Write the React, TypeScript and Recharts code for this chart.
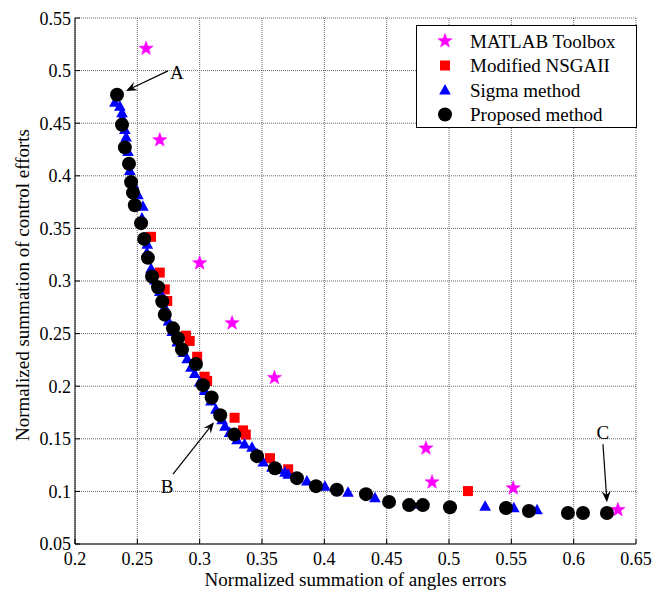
import {
  CartesianGrid,
  Legend,
  ReferenceDot,
  ReferenceLine,
  Scatter,
  ScatterChart,
  XAxis,
  YAxis,
} from 'recharts';

type Point = { x: number; y: number };

const FONT = '"Liberation Serif", "Times New Roman", serif';

const xTicks = [0.2, 0.25, 0.3, 0.35, 0.4, 0.45, 0.5, 0.55, 0.6, 0.65];
const yTicks = [0.05, 0.1, 0.15, 0.2, 0.25, 0.3, 0.35, 0.4, 0.45, 0.5, 0.55];

const matlabToolbox: Point[] = [
  { x: 0.257, y: 0.521 },
  { x: 0.268, y: 0.434 },
  { x: 0.3, y: 0.317 },
  { x: 0.326, y: 0.26 },
  { x: 0.36, y: 0.208 },
  { x: 0.4815, y: 0.141 },
  { x: 0.4864, y: 0.1088 },
  { x: 0.5515, y: 0.1031 },
  { x: 0.6355, y: 0.0825 },
];

const modifiedNsga: Point[] = [
  { x: 0.261, y: 0.342 },
  { x: 0.268, y: 0.308 },
  { x: 0.272, y: 0.292 },
  { x: 0.274, y: 0.281 },
  { x: 0.289, y: 0.248 },
  { x: 0.292, y: 0.243 },
  { x: 0.298, y: 0.228 },
  { x: 0.304, y: 0.209 },
  { x: 0.306, y: 0.205 },
  { x: 0.328, y: 0.17 },
  { x: 0.3348, y: 0.158 },
  { x: 0.337, y: 0.154 },
  { x: 0.3564, y: 0.1316 },
  { x: 0.371, y: 0.121 },
  { x: 0.5152, y: 0.1003 },
];

const sigmaMethod: Point[] = [
  { x: 0.232, y: 0.47 },
  { x: 0.236, y: 0.466 },
  { x: 0.2377, y: 0.46 },
  { x: 0.238, y: 0.455 },
  { x: 0.24, y: 0.444 },
  { x: 0.241, y: 0.437 },
  { x: 0.2425, y: 0.423 },
  { x: 0.244, y: 0.405 },
  { x: 0.247, y: 0.392 },
  { x: 0.2505, y: 0.382 },
  { x: 0.2545, y: 0.371 },
  { x: 0.2537, y: 0.36 },
  { x: 0.258, y: 0.335 },
  { x: 0.2577, y: 0.327 },
  { x: 0.261, y: 0.312 },
  { x: 0.264, y: 0.301 },
  { x: 0.268, y: 0.29 },
  { x: 0.272, y: 0.275 },
  { x: 0.275, y: 0.262 },
  { x: 0.278, y: 0.252 },
  { x: 0.282, y: 0.242 },
  { x: 0.287, y: 0.232 },
  { x: 0.29, y: 0.226 },
  { x: 0.293, y: 0.218 },
  { x: 0.296, y: 0.212 },
  { x: 0.3, y: 0.204 },
  { x: 0.304, y: 0.196 },
  { x: 0.309, y: 0.186 },
  { x: 0.313, y: 0.178 },
  { x: 0.318, y: 0.168 },
  { x: 0.3203, y: 0.162 },
  { x: 0.324, y: 0.156 },
  { x: 0.33, y: 0.149 },
  { x: 0.336, y: 0.145 },
  { x: 0.342, y: 0.142 },
  { x: 0.346, y: 0.136 },
  { x: 0.351, y: 0.128 },
  { x: 0.358, y: 0.123 },
  { x: 0.364, y: 0.121 },
  { x: 0.3684, y: 0.1183 },
  { x: 0.371, y: 0.1164 },
  { x: 0.378, y: 0.113 },
  { x: 0.386, y: 0.11 },
  { x: 0.4005, y: 0.105 },
  { x: 0.419, y: 0.0993 },
  { x: 0.4406, y: 0.094 },
  { x: 0.47, y: 0.088 },
  { x: 0.529, y: 0.086 },
  { x: 0.552, y: 0.0845 },
  { x: 0.5706, y: 0.0825 },
];

const proposedMethod: Point[] = [
  { x: 0.2337, y: 0.477 },
  { x: 0.2377, y: 0.4485 },
  { x: 0.24, y: 0.427 },
  { x: 0.2433, y: 0.4115 },
  { x: 0.245, y: 0.394 },
  { x: 0.2465, y: 0.384 },
  { x: 0.248, y: 0.372 },
  { x: 0.253, y: 0.355 },
  { x: 0.2555, y: 0.34 },
  { x: 0.2585, y: 0.322 },
  { x: 0.2618, y: 0.3043 },
  { x: 0.2666, y: 0.294 },
  { x: 0.27, y: 0.2805 },
  { x: 0.272, y: 0.268 },
  { x: 0.2786, y: 0.255 },
  { x: 0.2826, y: 0.2455 },
  { x: 0.2858, y: 0.235 },
  { x: 0.297, y: 0.221 },
  { x: 0.3027, y: 0.201 },
  { x: 0.3096, y: 0.1892 },
  { x: 0.3165, y: 0.1725 },
  { x: 0.3278, y: 0.154 },
  { x: 0.346, y: 0.1335 },
  { x: 0.3604, y: 0.122 },
  { x: 0.378, y: 0.1126 },
  { x: 0.3933, y: 0.105 },
  { x: 0.41, y: 0.1015 },
  { x: 0.4334, y: 0.0974 },
  { x: 0.4519, y: 0.09 },
  { x: 0.468, y: 0.087 },
  { x: 0.479, y: 0.087 },
  { x: 0.5008, y: 0.085 },
  { x: 0.5457, y: 0.0842 },
  { x: 0.5641, y: 0.0813 },
  { x: 0.5954, y: 0.0794 },
  { x: 0.6075, y: 0.0794 },
  { x: 0.6267, y: 0.0794 },
];

const annotations = [
  { label: 'A', text: { x: 0.2818, y: 0.4978 }, from: { x: 0.2746, y: 0.4997 }, to: { x: 0.2409, y: 0.4807 } },
  { label: 'B', text: { x: 0.2738, y: 0.105 }, from: { x: 0.2786, y: 0.1164 }, to: { x: 0.3115, y: 0.1658 } },
  { label: 'C', text: { x: 0.6235, y: 0.1563 }, from: { x: 0.6235, y: 0.1449 }, to: { x: 0.6267, y: 0.0898 } },
];

type MarkerProps = { cx?: number; cy?: number };

function StarMarker({ cx = 0, cy = 0 }: MarkerProps) {
  const outer = 7.5;
  const inner = 3.1;
  const pts: string[] = [];
  for (let i = 0; i < 10; i++) {
    const r = i % 2 === 0 ? outer : inner;
    const a = -Math.PI / 2 + (i * Math.PI) / 5;
    pts.push(`${cx + r * Math.cos(a)},${cy + r * Math.sin(a)}`);
  }
  return <polygon points={pts.join(' ')} fill="#ff00ff" stroke="#ff00ff" strokeWidth={0.5} />;
}

function SquareMarker({ cx = 0, cy = 0 }: MarkerProps) {
  return <rect x={cx - 5} y={cy - 5} width={10} height={10} fill="#ff0000" />;
}

function TriangleMarker({ cx = 0, cy = 0 }: MarkerProps) {
  return (
    <polygon
      points={`${cx},${cy - 6} ${cx + 5.8},${cy + 4.5} ${cx - 5.8},${cy + 4.5}`}
      fill="#0000ff"
    />
  );
}

function CircleMarker({ cx = 0, cy = 0 }: MarkerProps) {
  return <circle cx={cx} cy={cy} r={7} fill="#000" />;
}

const seriesList = [
  { name: 'MATLAB Toolbox', data: matlabToolbox, Marker: StarMarker },
  { name: 'Modified NSGAII', data: modifiedNsga, Marker: SquareMarker },
  { name: 'Sigma method', data: sigmaMethod, Marker: TriangleMarker },
  { name: 'Proposed method', data: proposedMethod, Marker: CircleMarker },
];

function LegendBox() {
  return (
    <svg width={221} height={103} style={{ display: 'block', fontFamily: FONT }}>
      <rect x={0.5} y={0.5} width={220} height={102} fill="#fff" stroke="#000" />
      {seriesList.map(({ name, Marker }, i) => {
        const cy = 16 + i * 24.5;
        return (
          <g key={name}>
            <Marker cx={29} cy={cy} />
            <text x={54} y={cy} dominantBaseline="central" fontSize={19} fill="#000">
              {name}
            </text>
          </g>
        );
      })}
    </svg>
  );
}

function Arrow(props: any) {
  const { x1, y1, x2, y2 } = props;
  const dx = x2 - x1;
  const dy = y2 - y1;
  const len = Math.hypot(dx, dy) || 1;
  const ux = dx / len;
  const uy = dy / len;
  const nx = -uy;
  const ny = ux;
  const L = 11;
  const W = 4.5;
  const head = [
    `${x2},${y2}`,
    `${x2 - L * ux + W * nx},${y2 - L * uy + W * ny}`,
    `${x2 - 0.65 * L * ux},${y2 - 0.65 * L * uy}`,
    `${x2 - L * ux - W * nx},${y2 - L * uy - W * ny}`,
  ].join(' ');
  return (
    <g>
      <line x1={x1} y1={y1} x2={x2 - 0.6 * L * ux} y2={y2 - 0.6 * L * uy} stroke="#000" strokeWidth={1.2} />
      <polygon points={head} fill="#000" />
    </g>
  );
}

function XTitle(props: any) {
  const vb = props.viewBox;
  return (
    <text x={vb.x + vb.width / 2} y={vb.y + 42} textAnchor="middle" fontSize={19} fill="#000">
      Normalized summation of angles errors
    </text>
  );
}

function YTitle(props: any) {
  const vb = props.viewBox;
  const x = vb.x + 21;
  const y = vb.y + vb.height / 2 + 4;
  return (
    <text x={x} y={y} textAnchor="middle" fontSize={19} fill="#000" transform={`rotate(-90, ${x}, ${y})`}>
      Normalized summation of control efforts
    </text>
  );
}

const tickStyle = { fontSize: 18, fill: '#000', fontFamily: FONT };

export default function App() {
  return (
    <div style={{ width: 650, height: 584, fontFamily: FONT, position: 'relative' }}>
      <ScatterChart width={650} height={584} margin={{ top: 10, right: 22, bottom: 0, left: 0 }}>
        <CartesianGrid stroke="#666" strokeDasharray="1 1" />
        <XAxis
          type="number"
          dataKey="x"
          domain={[0.2, 0.65]}
          ticks={xTicks}
          allowDataOverflow
          height={48}
          tickSize={-5}
          tickMargin={13}
          tick={tickStyle}
          stroke="#000"
          axisLine={{ stroke: '#000' }}
          tickLine={{ stroke: '#000' }}
          label={{ content: XTitle }}
        />
        <XAxis
          xAxisId="top"
          orientation="top"
          type="number"
          dataKey="x"
          domain={[0.2, 0.65]}
          ticks={xTicks}
          allowDataOverflow
          height={0}
          tickSize={-5}
          tick={false}
          axisLine={{ stroke: '#000' }}
          tickLine={{ stroke: '#000' }}
        />
        <YAxis
          type="number"
          dataKey="y"
          domain={[0.05, 0.55]}
          ticks={yTicks}
          allowDataOverflow
          width={67}
          tickSize={-5}
          tickMargin={9}
          tick={tickStyle}
          axisLine={{ stroke: '#000' }}
          tickLine={{ stroke: '#000' }}
          label={{ content: YTitle }}
        />
        <YAxis
          yAxisId="right"
          orientation="right"
          type="number"
          dataKey="y"
          domain={[0.05, 0.55]}
          ticks={yTicks}
          allowDataOverflow
          width={0}
          tickSize={-5}
          tick={false}
          axisLine={{ stroke: '#000' }}
          tickLine={{ stroke: '#000' }}
        />
        {seriesList.map(({ name, data, Marker }) => (
          <Scatter
            key={name}
            name={name}
            data={data}
            shape={(p: any) => <Marker cx={p.cx} cy={p.cy} />}
            isAnimationActive={false}
          />
        ))}
        {annotations.map((a) => (
          <ReferenceLine
            key={`arrow-${a.label}`}
            segment={[a.from, a.to]}
            shape={(p: any) => <Arrow {...p} />}
            ifOverflow="visible"
          />
        ))}
        {annotations.map((a) => (
          <ReferenceDot
            key={`label-${a.label}`}
            x={a.text.x}
            y={a.text.y}
            r={1}
            ifOverflow="visible"
            shape={(p: any) => (
              <text x={p.cx} y={p.cy} textAnchor="middle" dominantBaseline="central" fontSize={19} fill="#000">
                {a.label}
              </text>
            )}
          />
        ))}
        <Legend
          layout="vertical"
          align="center"
          verticalAlign="middle"
          wrapperStyle={{ left: 408, top: 17, width: 221, height: 103 }}
          content={() => <LegendBox />}
        />
      </ScatterChart>
    </div>
  );
}
